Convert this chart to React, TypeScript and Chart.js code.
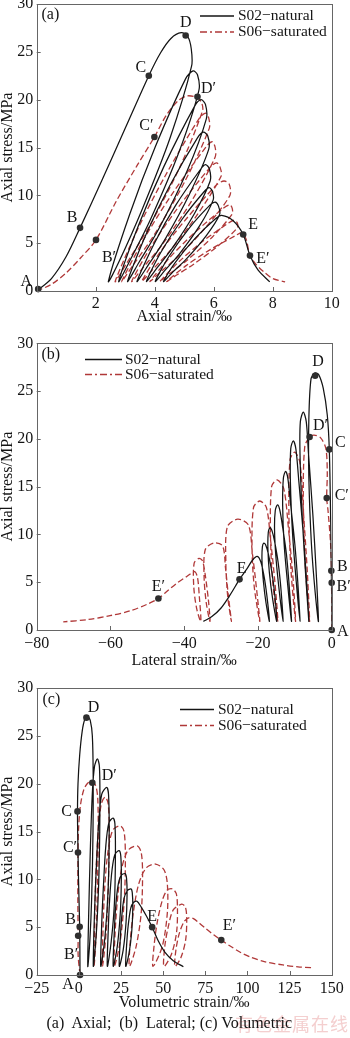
import React, { useEffect, useRef } from "react";
import { Chart, registerables } from "chart.js";

Chart.register(...registerables);

type Pt = [number, number];
type Mark = [string, number, number];

// ---------------- data ----------------
const seriesNames = ["S02\u2212natural", "S06\u2212saturated"];
const stressTicks = [0, 5, 10, 15, 20, 25, 30];
const axialTicks = [0, 2, 4, 6, 8, 10];
const lateralTicks = [-80, -60, -40, -20, 0];
const volumetricTicks = [-25, 0, 25, 50, 75, 100, 125, 150];
const panelTitles = ["Axial strain/\u2030", "Lateral strain/\u2030", "Volumetric strain/\u2030"];
const yTitle = "Axial stress/MPa";
const caption = "(a)  Axial;  (b)  Lateral; (c) Volumetric";
const watermark = "有色金属在线";

// (a) axial strain (‰) vs axial stress (MPa)
const axialS02: Pt[] = [
  [0, 0], [0.5, 1.3], [1.0, 3.6], [1.47, 6.6], [2.2, 11.5], [3.0, 17.0], [3.8, 22.5], [4.2, 24.9], [4.55, 26.4], [4.9, 27.0], [5.12, 26.6], [5.24, 25.3], [5.25, 23.5],
  [4.52, 16], [3.57, 8.5], [2.78, 3], [2.43, 1.0],
  [3.15, 8], [4.01, 15], [5.05, 22.2], [5.3, 23.0], [5.45, 22.6], [5.5, 21.0],
  [4.82, 14.5], [3.86, 7.5], [3.13, 3], [2.78, 1.0],
  [3.47, 7], [4.31, 13], [5.35, 19.3], [5.57, 20.0], [5.72, 19.5], [5.75, 18.0],
  [5.09, 12.5], [4.14, 6.5], [3.47, 3], [3.08, 1.0],
  [3.72, 6], [4.51, 11], [5.45, 16.0], [5.65, 16.6], [5.8, 16.2], [5.83, 14.8],
  [5.16, 10], [4.37, 5.5], [3.8, 2.8], [3.4, 1.0],
  [3.99, 5], [4.72, 9], [5.55, 12.7], [5.72, 13.2], [5.85, 12.8], [5.88, 11.5],
  [5.33, 8], [4.6, 4.5], [4.1, 2.5], [3.72, 1.0],
  [4.2, 4], [4.93, 7.5], [5.68, 10.4], [5.85, 10.8], [5.96, 10.4], [5.98, 9.5],
  [5.52, 6.8], [4.82, 3.8], [4.36, 2.2], [4.02, 1.0],
  [4.46, 3.5], [5.15, 6.5], [5.88, 9.0], [6.05, 9.3], [6.16, 8.9], [6.2, 8.0],
  [5.75, 5.8], [5.06, 3.3], [4.62, 2.0], [4.3, 1.0],
  [4.7, 3], [5.37, 5.5], [6.08, 7.6], [6.27, 7.9], [6.66, 7.35], [7.0, 5.9], [7.23, 3.7], [7.5, 2.2], [7.9, 0.95],
];
const axialS06: Pt[] = [
  [0, 0], [0.5, 0.7], [1.0, 1.9], [1.5, 3.5], [2.01, 5.34], [2.7, 9.4], [3.4, 13.1], [3.99, 16.1], [4.4, 18.4], [4.8, 19.9], [5.1, 20.4], [5.45, 20.2], [5.6, 19.6], [5.62, 18.8],
  [4.86, 13], [3.86, 7], [3.07, 3], [2.66, 1.0],
  [3.43, 6.5], [4.35, 12], [5.5, 18.0], [5.72, 18.6], [5.83, 18.1], [5.85, 17.0],
  [5.03, 11.5], [4.01, 6], [3.29, 2.8], [2.88, 1.0],
  [3.65, 5.5], [4.56, 10], [5.75, 15.1], [5.95, 15.6], [6.05, 15.0], [6.05, 14.0],
  [5.27, 9.5], [4.29, 5], [3.62, 2.5], [3.22, 1.0],
  [3.85, 4.5], [4.74, 8.5], [5.9, 13.0], [6.1, 13.4], [6.22, 12.9], [6.25, 12.0],
  [5.45, 8], [4.6, 4.5], [3.95, 2.3], [3.56, 1.0],
  [4.17, 4], [5.06, 7.5], [6.1, 11.1], [6.35, 11.5], [6.52, 11.2], [6.55, 10.0],
  [5.77, 6.8], [4.86, 3.8], [4.2, 2.0], [3.84, 1.0],
  [4.51, 3.5], [5.39, 6.2], [6.35, 8.7], [6.55, 9.0], [6.63, 8.6], [6.62, 8.0],
  [5.94, 5.6], [5.13, 3.3], [4.55, 1.9], [4.18, 1.0],
  [4.8, 3], [5.63, 5.2], [6.5, 7.1], [6.7, 7.4], [6.8, 7.1], [6.8, 6.6],
  [6.14, 4.7], [5.32, 2.8], [4.76, 1.7], [4.41, 1.0],
  [5.04, 2.6], [5.87, 4.3], [6.75, 5.8], [6.95, 6.1], [7.1, 5.4], [7.22, 3.8], [7.4, 2.9], [7.7, 2.0], [8.0, 1.3], [8.42, 0.95],
];
const axialMarks: Mark[] = [
  ["A", 0.05, 0.2], ["B", 1.47, 6.6], ["B\u2032", 2.01, 5.34], ["C", 3.8, 22.5], ["C\u2032", 3.99, 16.1],
  ["D", 5.05, 26.7], ["D\u2032", 5.45, 20.3], ["E", 7.0, 5.9], ["E\u2032", 7.23, 3.7],
];

// (b) lateral strain (‰) vs axial stress (MPa)
const lateralS02: Pt[] = [
  [0, 0], [0, 3], [-0.1, 6.2], [-0.3, 12], [-0.65, 18.9], [-1.2, 22.5], [-2.3, 25.3], [-3.5, 26.7], [-4.5, 26.9], [-5.6, 26.3], [-6.2, 22], [-6.2, 16], [-5.5, 9], [-4.5, 4], [-3.6, 0.9],
  [-4.2, 6], [-5.1, 12], [-6.3, 18.5], [-6.9, 21.8], [-7.7, 22.8], [-8.5, 21.8], [-8.6, 18.5], [-8.0, 12], [-7.1, 6], [-6.2, 0.9],
  [-6.8, 5], [-7.7, 10], [-8.9, 15.5], [-9.7, 18.9], [-10.4, 19.8], [-11.1, 19.0], [-11.2, 15.5], [-10.6, 10], [-9.6, 5], [-8.6, 0.9],
  [-9.2, 5], [-10.0, 9], [-11.1, 13], [-11.9, 15.9], [-12.5, 16.6], [-13.1, 15.9], [-13.3, 13], [-12.9, 9], [-12.0, 5], [-10.9, 0.9],
  [-11.5, 4.5], [-12.3, 8], [-13.4, 11], [-14.1, 12.6], [-14.7, 13.1], [-15.3, 12.5], [-15.5, 10.5], [-15.1, 7.5], [-14.2, 4], [-13.2, 0.9],
  [-13.7, 4], [-14.5, 7], [-15.5, 9.3], [-16.2, 10.4], [-16.7, 10.7], [-17.2, 10.2], [-17.3, 8.5], [-16.9, 6], [-16.0, 3.2], [-14.9, 0.9],
  [-15.4, 3.5], [-16.2, 6], [-17.2, 8], [-17.9, 8.9], [-18.4, 9.1], [-18.8, 8.7], [-18.9, 7.2], [-18.5, 5], [-17.8, 2.8], [-16.9, 0.9],
  [-17.4, 3], [-18.2, 5.3], [-19.2, 7.1], [-20.2, 7.7], [-21.5, 7.3], [-23, 6.4], [-25, 5.3], [-27.5, 3.7], [-30, 2.3], [-32.5, 1.4], [-34.8, 0.9],
];
const lateralS06: Pt[] = [
  [0, 0], [0, 2.5], [0, 4.95], [-0.3, 9], [-1.0, 12.5], [-1.35, 13.8], [-1.2, 16.5], [-1.6, 19.0], [-3.0, 20.1], [-4.8, 20.4], [-6.0, 20.2], [-7.3, 19.2], [-7.7, 14], [-7.2, 7], [-6.0, 0.9],
  [-6.6, 6], [-7.6, 12], [-8.6, 17.5], [-10.0, 18.6], [-11.3, 17.8], [-11.6, 12], [-11.0, 6], [-9.8, 0.9],
  [-10.5, 5.5], [-11.7, 10.5], [-13.0, 14.8], [-14.8, 15.7], [-16.3, 15.0], [-16.6, 10], [-16.0, 5], [-14.6, 0.9],
  [-15.4, 5], [-16.6, 9.5], [-17.7, 12.8], [-19.5, 13.5], [-21.2, 12.8], [-21.6, 8.5], [-21.0, 4.5], [-19.5, 0.9],
  [-20.3, 4], [-21.5, 8], [-22.6, 11.0], [-25.5, 11.6], [-28.3, 10.8], [-28.7, 7], [-28.2, 3.5], [-27.2, 0.9],
  [-28.0, 3.5], [-28.8, 6.5], [-29.6, 8.8], [-32.0, 9.1], [-34.3, 8.4], [-34.6, 5.5], [-34.0, 2.8], [-33.0, 0.9],
  [-33.4, 3], [-34.2, 5.5], [-35.0, 7.2], [-36.0, 7.5], [-37.3, 7.0], [-37.4, 4.5], [-36.6, 2.2], [-35.5, 0.9],
  [-35.9, 3.5], [-36.4, 5.5], [-37.2, 6.1], [-39.3, 5.6], [-42.0, 4.9], [-44.5, 4.1], [-47.0, 3.3], [-50, 2.7], [-54.7, 2.0], [-60.1, 1.5], [-66, 1.1], [-72.8, 0.85],
];
const lateralMarks: Mark[] = [
  ["A", 0, 0], ["B", -0.1, 6.2], ["B\u2032", 0, 4.95], ["C", -0.65, 18.9], ["C\u2032", -1.35, 13.8],
  ["D", -4.5, 26.6], ["D\u2032", -6.0, 20.2], ["E", -25.0, 5.3], ["E\u2032", -47.0, 3.3],
];

// (c) volumetric strain (‰) vs axial stress (MPa)
const volumetricS02: Pt[] = [
  [0.7, 0], [0.6, 3], [0.5, 5.05], [-0.2, 10], [-0.6, 14], [-0.8, 17.1], [-0.5, 20], [0.5, 23], [2.0, 25.5], [3.5, 26.7], [5.2, 27.0], [6.8, 26.6], [8.0, 25.0], [8.5, 21], [8.4, 15], [7.6, 8], [6.5, 3.5], [5.3, 0.9],
  [5.8, 6], [6.8, 13], [8.0, 19], [9.3, 21.8], [11.0, 22.6], [12.2, 21.8], [12.5, 18], [12.0, 11], [10.6, 5], [8.6, 0.9],
  [9.2, 6], [10.3, 11], [11.8, 16], [13.6, 18.9], [16.5, 19.6], [17.6, 18.9], [18.0, 15], [17.4, 9], [15.5, 4], [13.0, 0.9],
  [13.5, 5], [14.5, 9], [16.0, 13.5], [17.8, 15.9], [20.3, 16.4], [21.4, 15.8], [21.7, 12.5], [21.1, 7.5], [19.2, 3.5], [16.9, 0.9],
  [17.4, 4.5], [18.3, 8], [19.7, 11], [21.4, 12.6], [23.9, 13.0], [24.9, 12.4], [25.2, 10], [24.6, 6.5], [22.8, 3], [20.4, 0.9],
  [20.9, 4], [21.8, 7], [23.2, 9.3], [25.0, 10.4], [27.4, 10.6], [28.3, 10.1], [28.6, 8.3], [28.0, 5.5], [26.3, 2.6], [24.0, 0.9],
  [24.5, 3.5], [25.4, 6], [26.8, 8], [28.7, 8.8], [30.9, 9.0], [31.7, 8.6], [32.0, 7], [31.4, 4.6], [29.8, 2.3], [27.8, 0.9],
  [28.3, 3], [29.3, 5.2], [30.8, 7.0], [32.6, 7.6], [34.5, 7.7], [37, 7.1], [40, 6.2], [43.5, 5.0], [47, 3.6], [51, 2.4], [56, 1.5], [62, 0.87],
];
const volumetricS06: Pt[] = [
  [0.7, 0], [-0.4, 2], [-0.4, 4.1], [-0.6, 8], [-0.5, 12.8], [-0.1, 15.5], [1.0, 17.8], [3.0, 19.4], [5.5, 20.1], [8.0, 20.2], [10.0, 19.8], [11.2, 18.5], [11.5, 15], [11.0, 9], [10.2, 4], [9.0, 0.9],
  [9.3, 5], [10.0, 10], [11.3, 14.5], [13.2, 17.8], [15.5, 18.6], [17.3, 18.0], [18.0, 15.5], [17.6, 10], [16.2, 4.5], [14.0, 0.9],
  [14.3, 4.5], [15.3, 9], [17.0, 12.5], [20.0, 15.1], [24.5, 15.6], [26.8, 15.0], [27.6, 12.5], [27.0, 8], [24.5, 3.5], [21.0, 0.9],
  [21.4, 4], [22.7, 7.5], [25.0, 10.8], [29.0, 13.0], [34.5, 13.5], [37.0, 12.8], [37.8, 10.5], [37.0, 6.5], [34.0, 3], [30.0, 0.9],
  [30.5, 3.5], [32.3, 6.5], [35.5, 9.5], [40.0, 11.2], [45.5, 11.6], [50.5, 11.0], [52.5, 9.5], [52.5, 6.5], [49.5, 3], [44.0, 0.9],
  [44.6, 3], [46.5, 5.5], [49.5, 7.8], [52.5, 8.9], [55.5, 9.0], [57.8, 8.5], [58.5, 7], [58.0, 4.5], [55.0, 2.2], [50.5, 0.9],
  [51.0, 3], [53.0, 5], [56.0, 6.8], [61.0, 7.4], [63.2, 7.1], [64.0, 5.8], [63.3, 3.6], [60.5, 1.8], [57.0, 0.9],
  [57.5, 2.5], [59.5, 4.3], [62.5, 5.6], [65.5, 6.0], [68, 5.9], [71, 5.5], [75, 4.9], [80, 4.2], [84.5, 3.65], [90, 3.0], [96, 2.35], [101.5, 1.9], [110, 1.4], [121, 1.05], [130, 0.85], [138, 0.76],
];
const volumetricMarks: Mark[] = [
  ["A", 0.7, 0], ["B", 0.5, 5.05], ["B\u2032", -0.4, 4.1], ["C", -0.8, 17.1], ["C\u2032", -0.5, 12.8],
  ["D", 4.5, 26.9], ["D\u2032", 8.0, 20.1], ["E", 43.5, 5.0], ["E\u2032", 84.5, 3.65],
];

// ---------------- layout / style ----------------
const FONT = "'Liberation Serif', 'Times New Roman', serif";
const INK = "#141414";
const RED = "#b03838";
const FRAME = "#666666";
const DOT = "#2e2e2e";
const FS = 16;

const axialLabelOffsets: Pt[] = [[-12, -7], [-8, -10], [13, 18], [-8, -8], [-8, -11], [0, -13], [11, -8], [10, -10], [13, 3]];
const lateralLabelOffsets: Pt[] = [[11, 2], [11, -4], [12, 4], [11, -7], [15, -2], [3, -14], [11, -11], [2, -11], [0, -12]];
const volumetricLabelOffsets: Pt[] = [[-12, 10], [-9, -7], [-7, 19], [-11, 0], [-8, -5], [7, -10], [17, -7], [0, -10], [8, -14]];

interface PanelCfg {
  top: number; height: number; padTop: number; padRight: number; xAxisH: number; xTickPad: number; titlePadBottom: number;
  xMin: number; xMax: number; xTicks: number[]; hideX0: boolean; xTitle: string;
  s02: Pt[]; s06: Pt[]; marks: Mark[]; offsets: Pt[];
  tag: string; tagX: number; tagY: number;
  legX1: number; legX2: number; legY1: number; legY2: number; legTx: number;
}

const panels: PanelCfg[] = [
  {
    top: 0, height: 330, padTop: 2, padRight: 18.3, xAxisH: 39, xTickPad: 2.7, titlePadBottom: 5,
    xMin: 0, xMax: 10, xTicks: axialTicks, hideX0: true, xTitle: panelTitles[0],
    s02: axialS02, s06: axialS06, marks: axialMarks, offsets: axialLabelOffsets,
    tag: "(a)", tagX: 41.5, tagY: 15, legX1: 200, legX2: 234, legY1: 16, legY2: 32, legTx: 238,
  },
  {
    top: 330, height: 345, padTop: 13.3, padRight: 18.3, xAxisH: 45, xTickPad: 3.7, titlePadBottom: 6,
    xMin: -80, xMax: 0, xTicks: lateralTicks, hideX0: false, xTitle: panelTitles[1],
    s02: lateralS02, s06: lateralS06, marks: lateralMarks, offsets: lateralLabelOffsets,
    tag: "(b)", tagX: 41.5, tagY: 25, legX1: 85, legX2: 122, legY1: 29.5, legY2: 44.5, legTx: 125,
  },
  {
    top: 660, height: 355, padTop: 28, padRight: 18.3, xAxisH: 40, xTickPad: 3.7, titlePadBottom: 4,
    xMin: -25, xMax: 150, xTicks: volumetricTicks, hideX0: false, xTitle: panelTitles[2],
    s02: volumetricS02, s06: volumetricS06, marks: volumetricMarks, offsets: volumetricLabelOffsets,
    tag: "(c)", tagX: 42.5, tagY: 40, legX1: 180, legX2: 214, legY1: 49.5, legY2: 65.5, legTx: 218,
  },
];

function fmtTick(v: number): string {
  return v < 0 ? "\u2212" + String(Math.abs(v)) : String(v);
}

function makeDecor(cfg: PanelCfg) {
  return {
    id: "decor",
    afterDatasetsDraw(chart: any) {
      const { ctx, chartArea: a, scales } = chart;
      const xs = scales.x;
      const ys = scales.y;
      ctx.save();
      // frame + inward ticks
      ctx.strokeStyle = FRAME;
      ctx.lineWidth = 1;
      ctx.setLineDash([]);
      ctx.beginPath();
      for (const t of xs.ticks) {
        const px = Math.round(xs.getPixelForValue(t.value)) + 0.5;
        ctx.moveTo(px, a.bottom);
        ctx.lineTo(px, a.bottom - 4);
      }
      for (const t of ys.ticks) {
        const py = Math.round(ys.getPixelForValue(t.value)) + 0.5;
        ctx.moveTo(a.left, py);
        ctx.lineTo(a.left + 4, py);
      }
      ctx.stroke();
      ctx.strokeRect(Math.round(a.left) + 0.5, Math.round(a.top) + 0.5, Math.round(a.right - a.left), Math.round(a.bottom - a.top));

      // point labels
      ctx.fillStyle = INK;
      ctx.font = `${FS}px ${FONT}`;
      ctx.textAlign = "center";
      ctx.textBaseline = "middle";
      cfg.marks.forEach((m, i) => {
        const [dx, dy] = cfg.offsets[i];
        ctx.fillText(m[0], xs.getPixelForValue(m[1]) + dx, ys.getPixelForValue(m[2]) + dy);
      });

      // panel tag
      ctx.textAlign = "left";
      ctx.fillText(cfg.tag, cfg.tagX, cfg.tagY);

      // legend
      ctx.lineWidth = 1.3;
      ctx.strokeStyle = INK;
      ctx.beginPath();
      ctx.moveTo(cfg.legX1, cfg.legY1);
      ctx.lineTo(cfg.legX2, cfg.legY1);
      ctx.stroke();
      ctx.strokeStyle = RED;
      ctx.setLineDash([7, 3, 2, 3]);
      ctx.beginPath();
      ctx.moveTo(cfg.legX1, cfg.legY2);
      ctx.lineTo(cfg.legX2, cfg.legY2);
      ctx.stroke();
      ctx.setLineDash([]);
      ctx.font = `15.5px ${FONT}`;
      ctx.fillText(seriesNames[0], cfg.legTx, cfg.legY1);
      ctx.fillText(seriesNames[1], cfg.legTx, cfg.legY2);
      ctx.restore();
    },
  };
}

function buildConfig(cfg: PanelCfg): any {
  const toXY = (pts: Pt[]) => pts.map(([x, y]) => ({ x, y }));
  return {
    type: "scatter",
    data: {
      datasets: [
        {
          label: "points",
          data: cfg.marks.map((m) => ({ x: m[1], y: m[2] })),
          showLine: false,
          pointRadius: 3.3,
          pointBackgroundColor: DOT,
          pointBorderColor: DOT,
          pointBorderWidth: 0,
          clip: false,
        },
        {
          label: seriesNames[0],
          data: toXY(cfg.s02),
          showLine: true,
          borderColor: INK,
          borderWidth: 1.25,
          pointRadius: 0,
          tension: 0.3,
          borderJoinStyle: "round",
        },
        {
          label: seriesNames[1],
          data: toXY(cfg.s06),
          showLine: true,
          borderColor: RED,
          borderWidth: 1.3,
          borderDash: [6, 3],
          pointRadius: 0,
          tension: 0.3,
          borderJoinStyle: "round",
        },
      ],
    },
    options: {
      animation: false,
      responsive: false,
      maintainAspectRatio: false,
      devicePixelRatio: 1,
      events: [],
      layout: { padding: { left: 0, right: cfg.padRight, top: cfg.padTop, bottom: 0 } },
      plugins: { legend: { display: false }, tooltip: { enabled: false } },
      scales: {
        x: {
          type: "linear",
          min: cfg.xMin,
          max: cfg.xMax,
          afterBuildTicks: (s: any) => {
            s.ticks = cfg.xTicks.map((v) => ({ value: v }));
          },
          grid: { display: false, drawTicks: false },
          border: { display: false },
          ticks: {
            color: INK,
            font: { family: FONT, size: FS },
            padding: cfg.xTickPad,
            autoSkip: false,
            maxRotation: 0,
            callback: (v: number) => (cfg.hideX0 && v === 0 ? "" : fmtTick(v)),
          },
          title: {
            display: true,
            text: cfg.xTitle,
            color: INK,
            font: { family: FONT, size: FS, lineHeight: 1 },
            padding: { top: 0, bottom: cfg.titlePadBottom },
          },
          afterFit: (s: any) => {
            s.height = cfg.xAxisH;
            s.paddingLeft = 0;
            s.paddingRight = 0;
          },
        },
        y: {
          type: "linear",
          min: 0,
          max: 30,
          afterBuildTicks: (s: any) => {
            s.ticks = stressTicks.map((v) => ({ value: v }));
          },
          grid: { display: false, drawTicks: false },
          border: { display: false },
          ticks: {
            color: INK,
            font: { family: FONT, size: FS },
            padding: 3.4,
            callback: (v: number) => fmtTick(v),
          },
          title: {
            display: true,
            text: yTitle,
            color: INK,
            font: { family: FONT, size: FS, lineHeight: 1 },
            padding: { top: 0, bottom: 0 },
          },
          afterFit: (s: any) => {
            s.width = 36.7;
            s.paddingTop = 0;
            s.paddingBottom = 0;
          },
        },
      },
    },
    plugins: [makeDecor(cfg)],
  };
}

function Panel({ cfg }: { cfg: PanelCfg }) {
  const ref = useRef<HTMLCanvasElement>(null);
  useEffect(() => {
    if (!ref.current) return;
    const chart = new Chart(ref.current, buildConfig(cfg));
    return () => chart.destroy();
  }, [cfg]);
  return (
    <canvas
      ref={ref}
      width={350}
      height={cfg.height}
      style={{ position: "absolute", left: 0, top: cfg.top, width: 350, height: cfg.height }}
    />
  );
}

export default function App() {
  return (
    <div style={{ position: "absolute", left: 0, top: 0, width: 350, height: 1038, background: "#ffffff", overflow: "hidden" }}>
      {panels.map((p, i) => (
        <Panel key={i} cfg={p} />
      ))}
      <div
        style={{
          position: "absolute", left: 235, top: 1012, fontFamily: "'Noto Sans CJK SC', sans-serif", fontSize: 18,
          color: "#f4cfcf", letterSpacing: 1, lineHeight: "22px", whiteSpace: "pre",
        }}
      >
        {watermark}
      </div>
      <div
        style={{
          position: "absolute", left: 46.5, top: 1015, fontFamily: FONT, fontSize: FS, color: INK,
          lineHeight: "16px", whiteSpace: "pre",
        }}
      >
        {caption}
      </div>
    </div>
  );
}
